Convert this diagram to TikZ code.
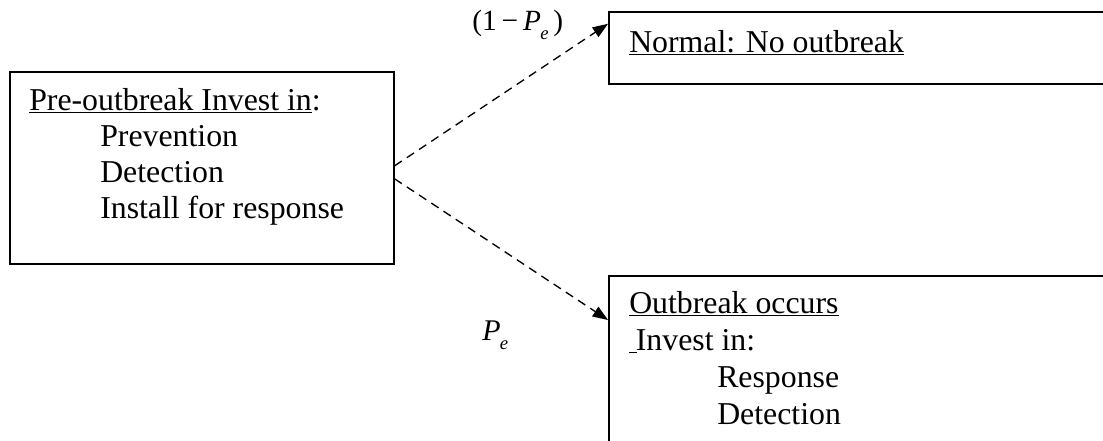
\documentclass[tikz,border=0pt]{standalone}
\usepackage{fontspec}
\setmainfont{Liberation Serif}
\usetikzlibrary{arrows.meta,calc}

\newcommand{\probE}{\textit{P}\kern-0.5pt\raisebox{-0.32em}{\fontsize{14}{14}\selectfont\textit{e}}}

\begin{document}
\begin{tikzpicture}[x=0.75pt,y=0.75pt,yscale=-1,xscale=1,
  font=\fontsize{23.85}{27.4}\selectfont,
  box/.style={draw,line width=1.2pt,inner sep=0pt,anchor=north west},
  txt/.style={anchor=base west,inner sep=0pt},
  branch/.style={line width=1pt,dash pattern=on 6.5pt off 4.5pt,-{Triangle[length=11.5pt,width=8.5pt]}}]
\useasboundingbox (0,0) rectangle (1103,440);
\clip (0,0) rectangle (1103,440);

% Boxes
\node (pre) [box,minimum width=288pt,minimum height=144pt] at (9,71) {};
\node (normal) [box,minimum width=391.5pt,minimum height=54pt] at (608,11) {};
\node (occurs) [box,minimum width=391.5pt,minimum height=146.25pt] at (608,275) {};

% Text Node
\node (preT) [txt] at (29,110) {\underline{Pre-outbreak Invest in}:};
\node (preA) [txt] at (100,146.5) {Prevention};
\node (preB) [txt] at (100,182.5) {Detection};
\node (preC) [txt] at (100,218.5) {Install for response};
% Text Node
\node (normalT) [txt] at (629,52) {\underline{Normal: No outbreak}};
% Text Node
\node (occursT) [txt] at (629,313) {\underline{Outbreak occurs}};
\node (occursA) [txt] at (629,350.5) {\underline{\ }\kern-1pt Invest in:};
\node (occursB) [txt] at (717,387) {Response};
\node (occursC) [txt] at (717,424) {Detection};

% Straight Lines
\draw [branch] ($(pre.east)+(0,-2)$) -- ($(normal.west)+(0,-24)$);
\draw [branch] ($(pre.east)+(0,11)$) -- ($(occurs.north west)+(0,45)$);

% Text Node
\node (probNo) [txt,font=\fontsize{22}{22}\selectfont] at (472,30) {(1\,−\,\probE\,)};
\node (probYes) [txt,font=\fontsize{22.5}{22.5}\selectfont] at (482,340) {\probE};

\end{tikzpicture}
\end{document}
